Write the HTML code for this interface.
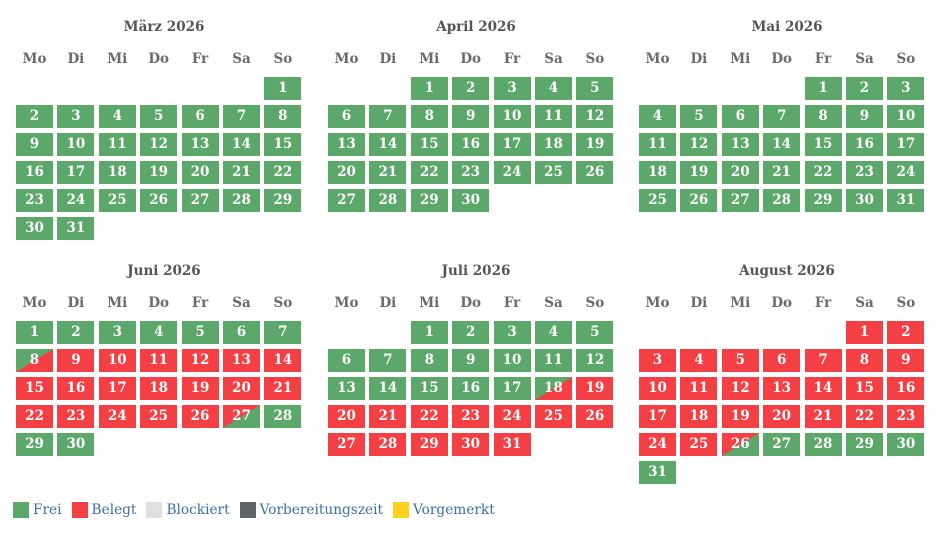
<!DOCTYPE html>
<html><head><meta charset="utf-8"><style>
body{margin:0;width:941px;height:557px;background:#fff;position:relative;overflow:hidden;font-family:"DejaVu Serif","Liberation Serif",serif}
.m{position:absolute;width:296px}
.t{position:absolute;left:0;width:296px;text-align:center;font-weight:bold;font-size:13.5px;color:#555;top:-17px}
.h{position:absolute;top:15px;left:0;display:grid;grid-template-columns:repeat(7,37px);column-gap:4.4px;font-weight:bold;font-size:13.5px;color:#6a6a6a;text-align:center}
.g0{position:absolute;top:41px;left:0;display:grid;grid-template-columns:repeat(7,37px);column-gap:4.4px;row-gap:5px;grid-auto-rows:23px}
.g0 div{color:#fff;font-weight:bold;font-size:13.5px;text-align:center;line-height:23px}
.g{background:#5ba86a}.r{background:#f43f44}
.gr{background:linear-gradient(to bottom right,#5ba86a 50%,#f43f44 50%)}
.rg{background:linear-gradient(to bottom right,#f43f44 50%,#5ba86a 50%)}
.lg{position:absolute;top:502px;left:13px;font-size:13.7px;color:#3d6eae;display:flex;align-items:center}
.lg span{display:inline-block;width:16px;height:16px;margin-right:4px}
.lg b{font-weight:normal;margin-right:10px}
</style></head><body>

<div class="m" style="left:16px;top:36px"><div class="t">März 2026</div>
<div class="h"><div>Mo</div><div>Di</div><div>Mi</div><div>Do</div><div>Fr</div><div>Sa</div><div>So</div></div>
<div class="g0"><div class="g" style="grid-column-start:7">1</div><div class="g">2</div><div class="g">3</div><div class="g">4</div><div class="g">5</div><div class="g">6</div><div class="g">7</div><div class="g">8</div><div class="g">9</div><div class="g">10</div><div class="g">11</div><div class="g">12</div><div class="g">13</div><div class="g">14</div><div class="g">15</div><div class="g">16</div><div class="g">17</div><div class="g">18</div><div class="g">19</div><div class="g">20</div><div class="g">21</div><div class="g">22</div><div class="g">23</div><div class="g">24</div><div class="g">25</div><div class="g">26</div><div class="g">27</div><div class="g">28</div><div class="g">29</div><div class="g">30</div><div class="g">31</div></div></div>

<div class="m" style="left:328px;top:36px"><div class="t">April 2026</div>
<div class="h"><div>Mo</div><div>Di</div><div>Mi</div><div>Do</div><div>Fr</div><div>Sa</div><div>So</div></div>
<div class="g0"><div class="g" style="grid-column-start:3">1</div><div class="g">2</div><div class="g">3</div><div class="g">4</div><div class="g">5</div><div class="g">6</div><div class="g">7</div><div class="g">8</div><div class="g">9</div><div class="g">10</div><div class="g">11</div><div class="g">12</div><div class="g">13</div><div class="g">14</div><div class="g">15</div><div class="g">16</div><div class="g">17</div><div class="g">18</div><div class="g">19</div><div class="g">20</div><div class="g">21</div><div class="g">22</div><div class="g">23</div><div class="g">24</div><div class="g">25</div><div class="g">26</div><div class="g">27</div><div class="g">28</div><div class="g">29</div><div class="g">30</div></div></div>

<div class="m" style="left:639px;top:36px"><div class="t">Mai 2026</div>
<div class="h"><div>Mo</div><div>Di</div><div>Mi</div><div>Do</div><div>Fr</div><div>Sa</div><div>So</div></div>
<div class="g0"><div class="g" style="grid-column-start:5">1</div><div class="g">2</div><div class="g">3</div><div class="g">4</div><div class="g">5</div><div class="g">6</div><div class="g">7</div><div class="g">8</div><div class="g">9</div><div class="g">10</div><div class="g">11</div><div class="g">12</div><div class="g">13</div><div class="g">14</div><div class="g">15</div><div class="g">16</div><div class="g">17</div><div class="g">18</div><div class="g">19</div><div class="g">20</div><div class="g">21</div><div class="g">22</div><div class="g">23</div><div class="g">24</div><div class="g">25</div><div class="g">26</div><div class="g">27</div><div class="g">28</div><div class="g">29</div><div class="g">30</div><div class="g">31</div></div></div>

<div class="m" style="left:16px;top:280px"><div class="t">Juni 2026</div>
<div class="h"><div>Mo</div><div>Di</div><div>Mi</div><div>Do</div><div>Fr</div><div>Sa</div><div>So</div></div>
<div class="g0"><div class="g">1</div><div class="g">2</div><div class="g">3</div><div class="g">4</div><div class="g">5</div><div class="g">6</div><div class="g">7</div><div class="gr">8</div><div class="r">9</div><div class="r">10</div><div class="r">11</div><div class="r">12</div><div class="r">13</div><div class="r">14</div><div class="r">15</div><div class="r">16</div><div class="r">17</div><div class="r">18</div><div class="r">19</div><div class="r">20</div><div class="r">21</div><div class="r">22</div><div class="r">23</div><div class="r">24</div><div class="r">25</div><div class="r">26</div><div class="rg">27</div><div class="g">28</div><div class="g">29</div><div class="g">30</div></div></div>

<div class="m" style="left:328px;top:280px"><div class="t">Juli 2026</div>
<div class="h"><div>Mo</div><div>Di</div><div>Mi</div><div>Do</div><div>Fr</div><div>Sa</div><div>So</div></div>
<div class="g0"><div class="g" style="grid-column-start:3">1</div><div class="g">2</div><div class="g">3</div><div class="g">4</div><div class="g">5</div><div class="g">6</div><div class="g">7</div><div class="g">8</div><div class="g">9</div><div class="g">10</div><div class="g">11</div><div class="g">12</div><div class="g">13</div><div class="g">14</div><div class="g">15</div><div class="g">16</div><div class="g">17</div><div class="gr">18</div><div class="r">19</div><div class="r">20</div><div class="r">21</div><div class="r">22</div><div class="r">23</div><div class="r">24</div><div class="r">25</div><div class="r">26</div><div class="r">27</div><div class="r">28</div><div class="r">29</div><div class="r">30</div><div class="r">31</div></div></div>

<div class="m" style="left:639px;top:280px"><div class="t">August 2026</div>
<div class="h"><div>Mo</div><div>Di</div><div>Mi</div><div>Do</div><div>Fr</div><div>Sa</div><div>So</div></div>
<div class="g0"><div class="r" style="grid-column-start:6">1</div><div class="r">2</div><div class="r">3</div><div class="r">4</div><div class="r">5</div><div class="r">6</div><div class="r">7</div><div class="r">8</div><div class="r">9</div><div class="r">10</div><div class="r">11</div><div class="r">12</div><div class="r">13</div><div class="r">14</div><div class="r">15</div><div class="r">16</div><div class="r">17</div><div class="r">18</div><div class="r">19</div><div class="r">20</div><div class="r">21</div><div class="r">22</div><div class="r">23</div><div class="r">24</div><div class="r">25</div><div class="rg">26</div><div class="g">27</div><div class="g">28</div><div class="g">29</div><div class="g">30</div><div class="g">31</div></div></div>

<div class="lg"><span style="background:#5ba86a"></span><b>Frei</b><span style="background:#f43f44"></span><b>Belegt</b><span style="background:#e0e0e0"></span><b>Blockiert</b><span style="background:#5f6468"></span><b>Vorbereitungszeit</b><span style="background:#fdd21f"></span><b>Vorgemerkt</b></div>
</body></html>
